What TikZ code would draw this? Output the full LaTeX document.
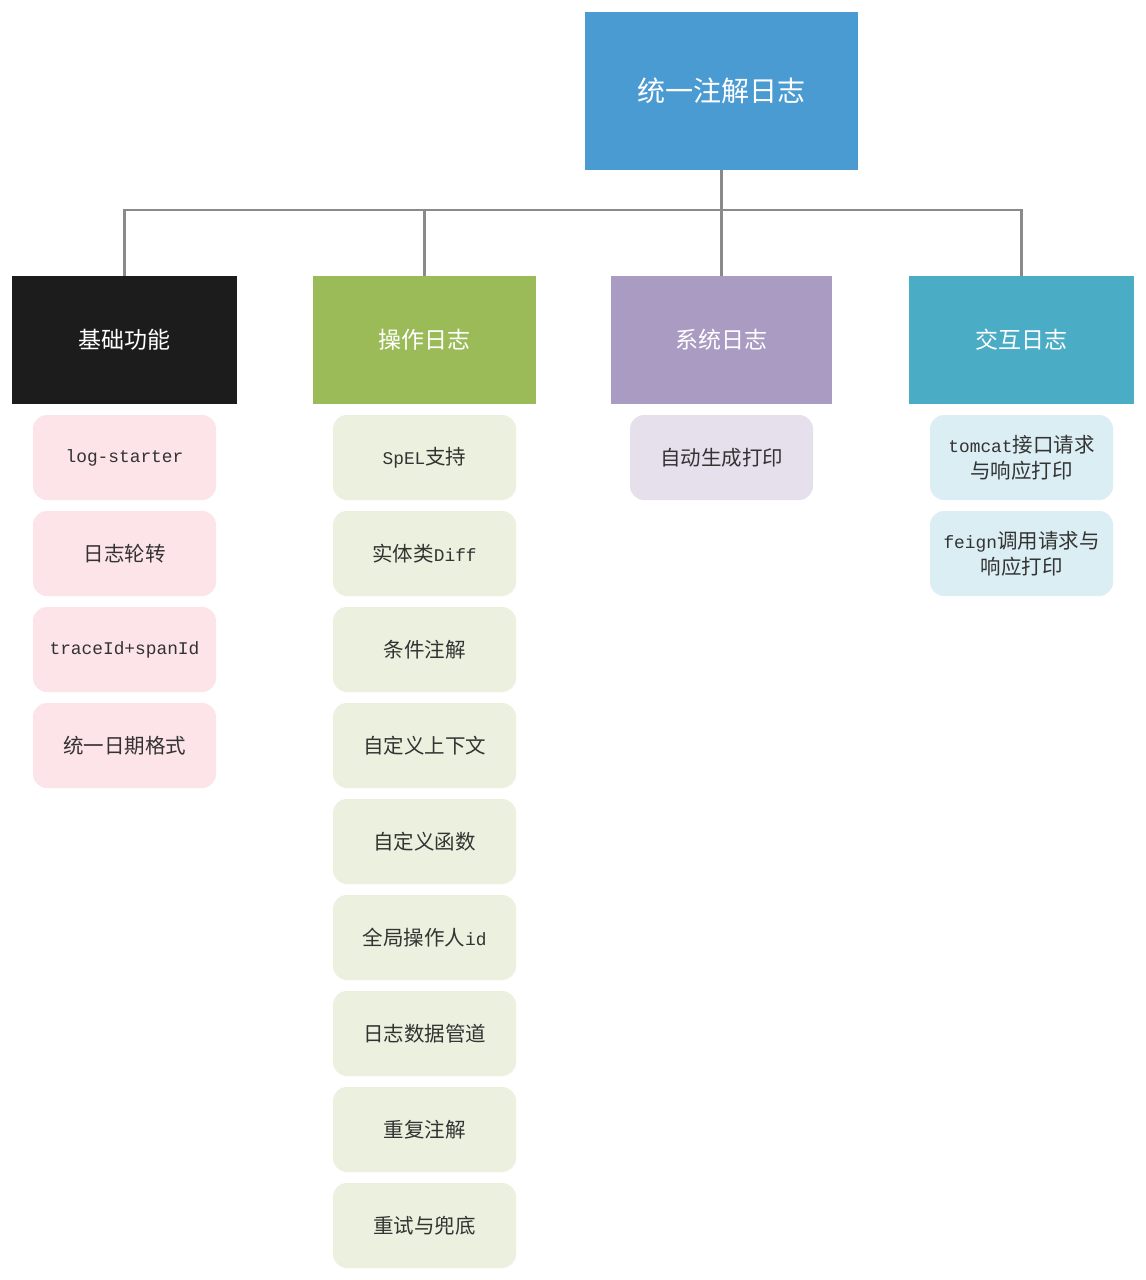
\documentclass[tikz,border=0pt]{standalone}
\usepackage{fontspec}
\setmainfont{Noto Sans CJK SC}
\newfontfamily\latmono[Scale=0.87]{Liberation Mono}
\newcommand{\en}[1]{{\latmono #1}}
\definecolor{rootblue}{HTML}{4B9BD3}
\definecolor{catblack}{HTML}{1C1C1C}
\definecolor{catgreen}{HTML}{9BBB59}
\definecolor{catpurple}{HTML}{A99BC1}
\definecolor{catteal}{HTML}{4BACC6}
\definecolor{leafpink}{HTML}{FDE4E8}
\definecolor{leafgreen}{HTML}{EBF1DE}
\definecolor{leafpurple}{HTML}{E6E0EC}
\definecolor{leafblue}{HTML}{DBEEF3}
\definecolor{txtgray}{HTML}{333333}
\definecolor{conngray}{HTML}{8A8A8A}
\begin{document}
\begin{tikzpicture}[x=1pt,y=-1pt,
  rootbox/.style={fill=rootblue, minimum width=273pt, minimum height=158pt, inner sep=0pt, text=white, font=\fontsize{28}{34}\selectfont},
  catbox/.style={minimum height=128pt, inner sep=0pt, text=white, font=\fontsize{23}{28}\selectfont},
  leafbox/.style={rounded corners=14pt, minimum width=183pt, minimum height=85pt, inner sep=0pt, align=center, text=txtgray, font=\fontsize{20.5}{26}\selectfont},
  conn/.style={draw=conngray, line width=2.5pt}]
\useasboundingbox (0,0) rectangle (1146,1280);
\fill[white] (0,0) rectangle (1146,1280);

\node[rootbox] (root) at (721.5,91) {统一注解日志};

\node[catbox, fill=catblack, minimum width=225pt] (c1) at (124.5,340) {基础功能};
\node[catbox, fill=catgreen, minimum width=223pt] (c2) at (424.5,340) {操作日志};
\node[catbox, fill=catpurple, minimum width=221pt] (c3) at (721.5,340) {系统日志};
\node[catbox, fill=catteal, minimum width=225pt] (c4) at (1021.5,340) {交互日志};

\coordinate (bus) at (721.5,210);
\draw[conn] (root.south) -- (c3.north);
\draw[conn] (c1.north) |- (bus) -| (c4.north);
\draw[conn] (c2.north) -- (c2.north |- bus);

% basic
\node[leafbox, fill=leafpink] (a1) at (124.5,457.5) {\en{log-starter}};
\node[leafbox, fill=leafpink] (a2) at (124.5,553.5) {日志轮转};
\node[leafbox, fill=leafpink] (a3) at (124.5,649.5) {\en{traceId+spanId}};
\node[leafbox, fill=leafpink] (a4) at (124.5,745.5) {统一日期格式};

% operation
\node[leafbox, fill=leafgreen] (b1) at (424.5,457.5) {\en{SpEL}支持};
\node[leafbox, fill=leafgreen] (b2) at (424.5,553.5) {实体类\en{Diff}};
\node[leafbox, fill=leafgreen] (b3) at (424.5,649.5) {条件注解};
\node[leafbox, fill=leafgreen] (b4) at (424.5,745.5) {自定义上下文};
\node[leafbox, fill=leafgreen] (b5) at (424.5,841.5) {自定义函数};
\node[leafbox, fill=leafgreen] (b6) at (424.5,937.5) {全局操作人\en{id}};
\node[leafbox, fill=leafgreen] (b7) at (424.5,1033.5) {日志数据管道};
\node[leafbox, fill=leafgreen] (b8) at (424.5,1129.5) {重复注解};
\node[leafbox, fill=leafgreen] (b9) at (424.5,1225.5) {重试与兜底};

% system
\node[leafbox, fill=leafpurple] (s1) at (721.5,457.5) {自动生成打印};

% interaction
\node[leafbox, fill=leafblue] (i1) at (1021.5,457.5) {\en{tomcat}接口请求\\与响应打印};
\node[leafbox, fill=leafblue] (i2) at (1021.5,553.5) {\en{feign}调用请求与\\响应打印};
\end{tikzpicture}
\end{document}
